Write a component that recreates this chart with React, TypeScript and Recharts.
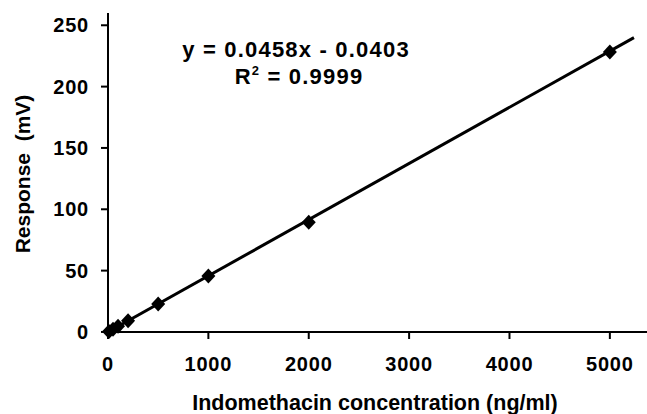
import { ScatterChart, Scatter, XAxis, YAxis } from 'recharts';

const concentration = [10, 50, 100, 200, 500, 1000, 2000, 5000];
const response = [0.4, 2.2, 4.6, 9.1, 22.8, 45.6, 89.5, 228.2];

// fitted line end points
const trendX = [0, 5240];
const trendY = [-0.04, 239.9];

const xTicks = [0, 1000, 2000, 3000, 4000, 5000];
const yTicks = [0, 50, 100, 150, 200, 250];

const FONT = '"Liberation Sans", Arial, sans-serif';

const points = concentration.map((x, i) => ({ x, y: response[i] }));
const trend = trendX.map((x, i) => ({ x, y: trendY[i] }));

const Diamond = (props: any) => {
  const { cx, cy } = props;
  if (cx == null || cy == null) return <g />;
  return (
    <polygon
      points={`${cx},${cy - 7.5} ${cx + 7},${cy} ${cx},${cy + 7.5} ${cx - 7},${cy}`}
      fill="#000"
    />
  );
};

const NoDot = () => <g />;

const tickStyle = { fill: '#000', fontSize: 20, fontWeight: 700, fontFamily: FONT, letterSpacing: 0.8 };

export default function App() {
  return (
    <div style={{ position: 'absolute', left: 0, top: 0, width: 647, height: 414, background: '#fff' }}>
      <ScatterChart width={647} height={414} margin={{ top: 13, right: 0, bottom: 0, left: 0 }}>
        <XAxis
          type="number"
          dataKey="x"
          domain={[0, 5370]}
          ticks={xTicks}
          height={82}
          tickSize={7}
          tickMargin={18}
          tick={tickStyle}
          axisLine={{ stroke: '#000', strokeWidth: 2 }}
          tickLine={{ stroke: '#000', strokeWidth: 2 }}
        />
        <YAxis
          type="number"
          dataKey="y"
          domain={[0, 260]}
          ticks={yTicks}
          width={108}
          tickSize={7}
          tickMargin={12}
          tick={tickStyle}
          axisLine={{ stroke: '#000', strokeWidth: 2 }}
          tickLine={{ stroke: '#000', strokeWidth: 2 }}
        />
        <Scatter
          data={trend}
          line={{ stroke: '#000', strokeWidth: 3 }}
          shape={NoDot}
          isAnimationActive={false}
        />
        <Scatter data={points} shape={Diamond} isAnimationActive={false} />
      </ScatterChart>
      <svg
        width={647}
        height={414}
        style={{ position: 'absolute', left: 0, top: 0, pointerEvents: 'none' }}
      >
        <g fontFamily={FONT} fontWeight={700} fill="#000">
          <text x={296} y={57} fontSize={22} letterSpacing={1.2} textAnchor="middle">
            y = 0.0458x - 0.0403
          </text>
          <text x={299} y={84} fontSize={22} letterSpacing={1.2} textAnchor="middle">
            R<tspan fontSize={13} dy={-9}>2</tspan>
            <tspan dy={9}> = 0.9999</tspan>
          </text>
          <text
            x={30}
            y={174}
            fontSize={21}
            textAnchor="middle"
            transform="rotate(-90 30 174)"
            style={{ whiteSpace: 'pre' }}
          >
            {'Response  (mV)'}
          </text>
          <text x={375} y={410} fontSize={21.5} textAnchor="middle">
            Indomethacin concentration (ng/ml)
          </text>
        </g>
      </svg>
    </div>
  );
}
